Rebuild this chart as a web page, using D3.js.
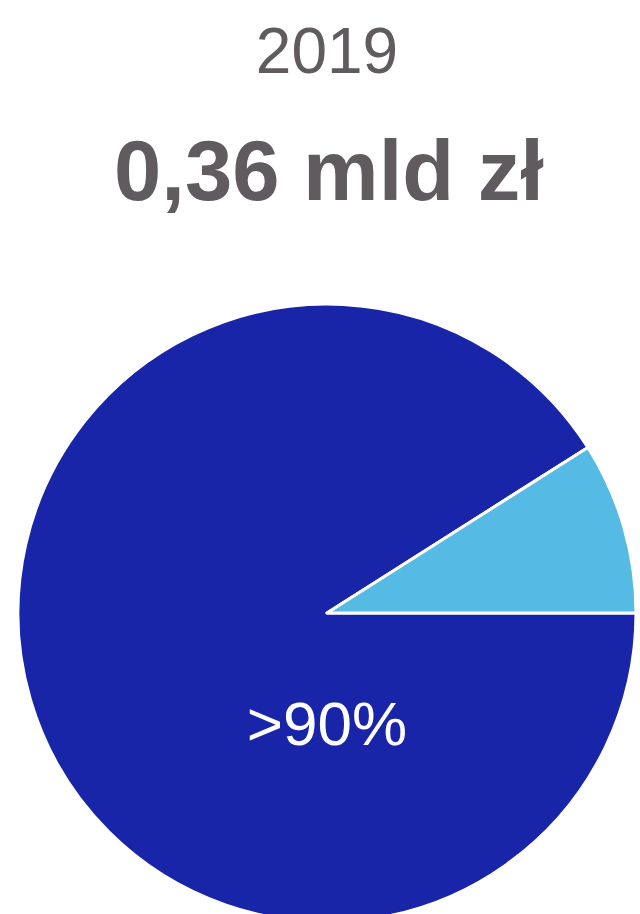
<!DOCTYPE html>
<html>
<head>
<meta charset="utf-8">
<script src="https://cdn.jsdelivr.net/npm/d3@7"></script>
<style>
	html, body { margin: 0; padding: 0; background: #fff; }
	svg { display: block; }
</style>
</head>
<body>
<svg width="640" height="914"></svg>
<script>
// chart data
var year = "2019";
var total = "0,36 mld zł";
var categories = ["main", "other"];
var values = [91, 9];
var labels = [">90%", ""];
var colors = ["#1925A8", "#55BBE4"];

var svg = d3.select("svg"),
	width = +svg.attr("width"),
	cx = 327,
	cy = 613,
	radius = 309;

svg.append("text")
	.attr("x", cx)
	.attr("y", 73)
	.attr("text-anchor", "middle")
	.attr("fill", "#5F5B5F")
	.style("font-family", "'Liberation Sans', Arial, sans-serif")
	.style("font-size", "64px")
	.text(year);

svg.append("text")
	.attr("x", cx + 2)
	.attr("y", 200)
	.attr("text-anchor", "middle")
	.attr("fill", "#5F5B5F")
	.style("font-family", "'Liberation Sans', Arial, sans-serif")
	.style("font-size", "85px")
	.style("font-weight", "bold")
	.text(total);

var pie = d3.pie()
	.sort(null)
	.startAngle(Math.PI / 2)
	.endAngle(Math.PI / 2 + 2 * Math.PI)
	.value(function(d) { return d; });

var arc = d3.arc()
	.innerRadius(0)
	.outerRadius(radius);

var g = svg.append("g")
	.attr("transform", "translate(" + cx + "," + cy + ")");

var slices = pie(values);

g.selectAll("path")
	.data(slices)
	.enter().append("path")
	.attr("d", arc)
	.attr("fill", function(d, i) { return colors[i]; })
	.attr("stroke", "#fff")
	.attr("stroke-width", 3)
	.attr("stroke-linejoin", "round");

// label sits straight below the centre
g.selectAll(".label")
	.data(slices.filter(function(d, i) { return labels[i]; }))
	.enter().append("text")
	.attr("class", "label")
	.attr("x", 0)
	.attr("y", radius * 0.427)
	.attr("text-anchor", "middle")
	.attr("fill", "#fff")
	.style("font-family", "'Liberation Sans', Arial, sans-serif")
	.style("font-size", "62px")
	.text(function(d) { return labels[d.index]; });
</script>
</body>
</html>
